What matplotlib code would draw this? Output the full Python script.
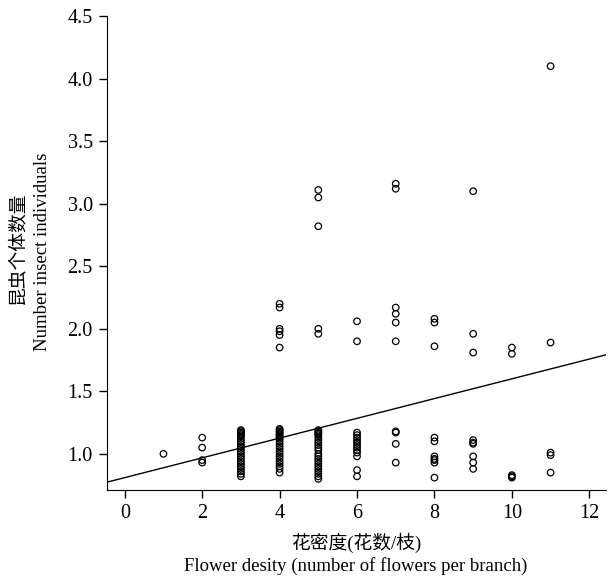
import numpy as np
import matplotlib
matplotlib.use('agg')
import matplotlib.pyplot as plt

# flower density (x) and insect counts (y)
x1 = [1]
y1 = [1.00]
x2 = [2] * 4
y2 = [1.13, 1.05, 0.95, 0.93]
y3 = [1.19, 1.18, 1.17, 1.16, 1.15, 1.14, 1.12, 1.10, 1.08, 1.06, 1.04, 1.02,
      1.00, 0.98, 0.96, 0.94, 0.92, 0.90, 0.88, 0.86, 0.84, 0.82]
y4 = [1.20, 1.19, 1.18, 1.17, 1.16, 1.15, 1.14, 1.13, 1.12, 1.10, 1.08, 1.06,
      1.04, 1.02, 1.00, 0.98, 0.96, 0.94, 0.92, 0.90, 0.88, 0.85,
      1.85, 1.95, 1.98, 2.00, 2.17, 2.20]
y5 = [1.19, 1.18, 1.17, 1.16, 1.15, 1.13, 1.11, 1.09, 1.07, 1.05, 1.03, 1.00,
      0.98, 0.96, 0.94, 0.92, 0.90, 0.88, 0.86, 0.84, 0.82, 0.80,
      1.96, 2.00, 2.82, 3.05, 3.11]
y6 = [1.17, 1.15, 1.13, 1.11, 1.09, 1.07, 1.05, 1.03, 1.01, 0.98, 0.87, 0.82,
      1.90, 2.06]
y7 = [1.18, 1.17, 1.08, 0.93, 1.90, 2.05, 2.12, 2.17, 3.12, 3.16]
y8 = [1.13, 1.10, 0.98, 0.96, 0.95, 0.93, 0.81, 1.86, 2.05, 2.08]
y9 = [1.11, 1.09, 1.08, 0.98, 0.93, 0.88, 1.81, 1.96, 3.10]
y10 = [0.83, 0.82, 0.81, 1.80, 1.85]
y11 = [1.01, 0.99, 0.85, 1.89, 4.10]

groups = {1: y1, 2: y2, 3: y3, 4: y4, 5: y5, 6: y6, 7: y7, 8: y8, 9: y9, 10: y10, 11: y11}
xs = []
ys = []
for k, v in groups.items():
    xs += [k] * len(v)
    ys += v

# fitted line
intercept = 0.81
slope = 0.079

serif = ['Liberation Serif', 'Noto Sans CJK SC']
plt.rcParams['font.family'] = serif

fig = plt.figure(figsize=(6.1, 5.77), dpi=100)
ax = fig.add_axes([0.175, 0.151, 0.819, 0.821])

ax.scatter(xs, ys, s=22, facecolors='none', edgecolors='black', linewidths=0.9)
ax.axline((0, intercept), slope=slope, color='black', linewidth=1.0)

ax.set_xlim(-0.465, 12.44)
ax.set_ylim(0.712, 4.5)
ax.set_xticks([0, 2, 4, 6, 8, 10, 12])
ax.set_yticks([1.0, 1.5, 2.0, 2.5, 3.0, 3.5, 4.0, 4.5])
ax.set_yticklabels(['%.1f' % v for v in [1.0, 1.5, 2.0, 2.5, 3.0, 3.5, 4.0, 4.5]])
ax.spines['top'].set_visible(False)
ax.spines['right'].set_visible(False)
ax.tick_params(direction='out', length=6, width=1, labelsize=14.5, pad=4)

fig.text(356 / 610, 1 - 543 / 577, '花密度(花数/枝)', ha='center', va='center', fontsize=13.5, family=serif)
fig.text(356 / 610, 1 - 566 / 577, 'Flower desity (number of flowers per branch)', ha='center', va='center',
         fontsize=13.5, family=serif)
fig.text(17 / 610, 1 - 248 / 577, '昆虫个体数量', rotation=90, ha='center', va='center', fontsize=13.5, family=serif)
fig.text(43 / 610, 1 - 252 / 577, 'Number insect individuals', rotation=90, ha='center', va='center',
         fontsize=13.5, family=serif)

plt.savefig('out.png', dpi=100)
plt.close()
